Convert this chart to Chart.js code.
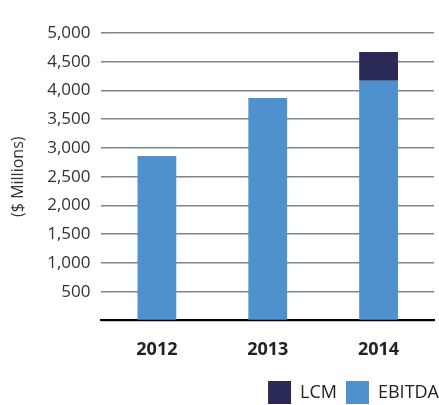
<!DOCTYPE html>
<html>
<head>
<meta charset="utf-8">
<script src="https://cdn.jsdelivr.net/npm/chart.js@4"></script>
<style>
  html, body { margin: 0; padding: 0; background: #fff; }
  #wrap { width: 439px; height: 405px; }
</style>
</head>
<body>
<div id="wrap"><canvas id="myChart"></canvas></div>
<script>
const years = ['2012', '2013', '2014'];
const ebitda = [2860, 3870, 4170];
const lcm = [0, 0, 500];
const yTicks = [500, 1000, 1500, 2000, 2500, 3000, 3500, 4000, 4500, 5000];

Chart.defaults.font.family = '"Open Sans", "Noto Sans", sans-serif';
Chart.defaults.color = '#333';

// the original legend runs off the right edge a bit
const legendShift = {
  id: 'legendShift',
  afterLayout(chart) {
    chart.legend.left += 14;
    chart.legend.right += 14;
  }
};

const ctx = document.getElementById('myChart').getContext('2d');
const myChart = new Chart(ctx, {
  type: 'bar',
  data: {
    labels: years,
    datasets: [
      {
        label: 'EBITDA',
        data: ebitda,
        backgroundColor: '#4f91cd',
        barPercentage: 0.7,
        categoryPercentage: 0.5
      },
      {
        label: 'LCM',
        data: lcm,
        backgroundColor: '#292a55',
        barPercentage: 0.7,
        categoryPercentage: 0.5
      }
    ]
  },
  plugins: [legendShift],
  options: {
    responsive: true,
    maintainAspectRatio: false,
    animation: false,
    layout: { padding: { top: 33, right: 5, left: 9, bottom: -9 } },
    plugins: {
      tooltip: { enabled: false },
      legend: {
        position: 'bottom',
        align: 'end',
        reverse: true,
        labels: {
          boxWidth: 23,
          boxHeight: 23,
          padding: 9,
          color: '#222',
          font: { size: 18 }
        }
      }
    },
    scales: {
      x: {
        stacked: true,
        grid: { display: false },
        border: { color: '#000', width: 2 },
        ticks: { color: '#222', padding: 11, font: { size: 18, weight: 'bold' } }
      },
      y: {
        stacked: true,
        min: 0,
        max: 5000,
        afterBuildTicks: function(axis) {
          axis.ticks = [0].concat(yTicks).map(v => ({ value: v }));
        },
        grid: { color: '#7a8595', lineWidth: 1.5, drawTicks: false },
        border: { display: false },
        ticks: {
          padding: 11,
          font: { size: 17 },
          color: '#333',
          callback: function(v) { return v === 0 ? '' : v.toLocaleString('en-US'); }
        },
        title: {
          display: true,
          text: '($ Millions)',
          font: { size: 16 },
          color: '#333',
          padding: { top: 0, bottom: 8 }
        }
      }
    }
  }
});
</script>
</body>
</html>
